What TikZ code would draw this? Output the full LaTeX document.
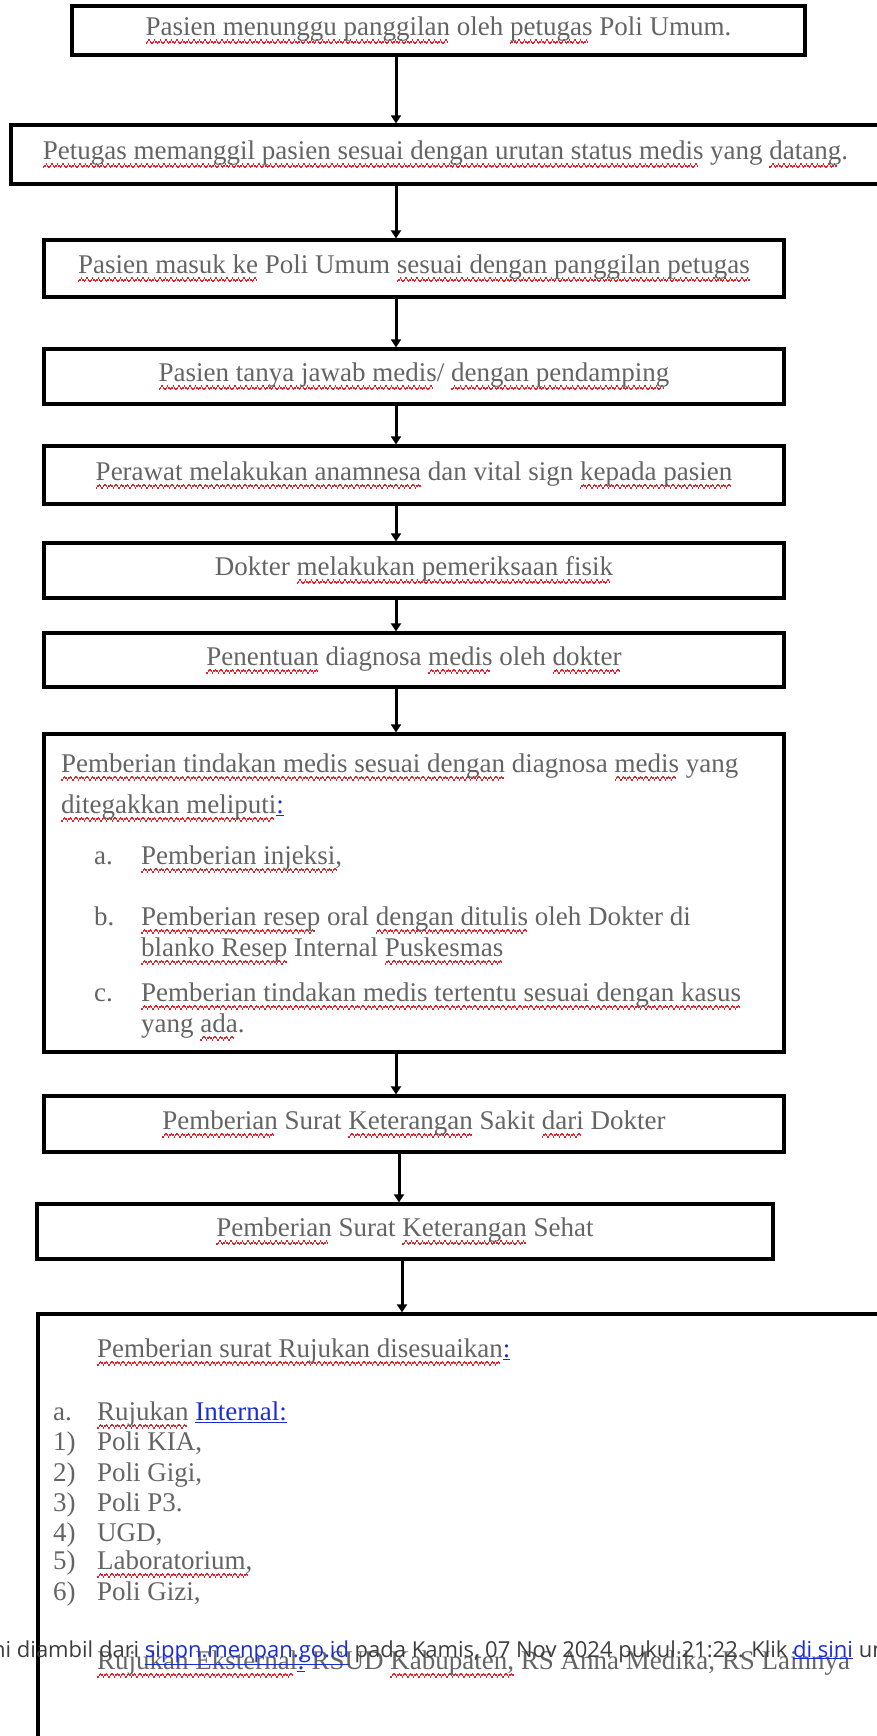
\documentclass[tikz,border=0pt]{standalone}
\usepackage{fontspec}
\setmainfont{Liberation Serif}
\newfontfamily\wmfont{Open Sans}
\usetikzlibrary{arrows.meta}

\definecolor{teks}{RGB}{100,100,100}
\definecolor{kata}{RGB}{110,25,35}
\definecolor{salah}{RGB}{225,35,45}
\definecolor{tautan}{RGB}{25,45,215}
\definecolor{wm}{RGB}{60,60,60}

% garis bergelombang ejaan
\newcommand\gelombang{\hbox{\rule[-8.5pt]{1.4pt}{2pt}\rule[-7pt]{1.4pt}{2pt}%
  \rule[-5.5pt]{1.4pt}{2pt}\rule[-7pt]{1.4pt}{2pt}}}
\newsavebox\ejabox
\newcommand\eja[1]{\leavevmode\sbox\ejabox{#1}%
  \rlap{\hbox to\wd\ejabox{\color{salah}\leaders\gelombang\hfil}}%
  \textcolor{kata}{\usebox\ejabox}}
\newcommand\biru[1]{\textcolor{tautan}{\underline{#1}}}
\newcommand\teksbesar{\fontsize{27}{32}\selectfont}

\tikzset{
  kotak/.style={draw, line width=3.2pt, inner sep=0pt, text=teks, font=\teksbesar},
  baris/.style={anchor=base west, inner sep=0pt, text=teks, font=\teksbesar},
  panah/.style={line width=3pt, -{Triangle[width=10pt,length=8pt]}},
  tanda/.style={anchor=base west, inner sep=0pt, text=wm, font=\wmfont\fontsize{22}{26}\selectfont}
}

\begin{document}
\begin{tikzpicture}[x=1pt, y=-1pt, line join=miter]

\useasboundingbox (0,0) rectangle (877,1736);
\clip (0,0) rectangle (877,1736);

% kotak langkah
\node[kotak, minimum width=733pt, minimum height=49pt] (b1) at (438.5,30.5)
  {\eja{Pasien menunggu panggilan} oleh \eja{petugas} Poli Umum.};
\node[kotak, minimum width=869pt, minimum height=59pt] (b2) at (445.5,154.5)
  {\eja{Petugas memanggil pasien sesuai dengan urutan status medis} yang \eja{datang}.};
\node[kotak, minimum width=740pt, minimum height=57pt] (b3) at (414,268.5)
  {\eja{Pasien masuk ke} Poli Umum \eja{sesuai dengan panggilan petugas}};
\node[kotak, minimum width=740pt, minimum height=55pt] (b4) at (414,376.5)
  {\eja{Pasien tanya jawab medis}/ \eja{dengan pendamping}};
\node[kotak, minimum width=740pt, minimum height=58pt] (b5) at (414,475)
  {\eja{Perawat melakukan anamnesa} dan vital sign \eja{kepada pasien}};
\node[kotak, minimum width=740pt, minimum height=55pt] (b6) at (414,570.5)
  {Dokter \eja{melakukan pemeriksaan fisik}};
\node[kotak, minimum width=740pt, minimum height=54pt] (b7) at (414,660)
  {\eja{Penentuan} diagnosa \eja{medis} oleh \eja{dokter}};
\node[kotak, minimum width=740pt, minimum height=318pt] (b8) at (414,893) {};
\node[kotak, minimum width=740pt, minimum height=56pt] (b9) at (414,1124)
  {\eja{Pemberian} Surat \eja{Keterangan} Sakit \eja{dari} Dokter};
\node[kotak, minimum width=736pt, minimum height=55pt] (b10) at (405,1231.5)
  {\eja{Pemberian} Surat \eja{Keterangan} Sehat};
\node[kotak, minimum width=860pt, minimum height=440pt] (b11) at (468,1534) {};

% isi kotak tindakan
\node[baris] (t8a) at (61,772) {\eja{Pemberian tindakan medis sesuai dengan} diagnosa \eja{medis} yang};
\node[baris] (t8b) at (61,813) {\eja{ditegakkan meliputi}\biru{:}};
\node[baris] (h8a) at (94,864) {a.};
\node[baris] (i8a) at (141,864) {\eja{Pemberian injeksi,}};
\node[baris] (h8b) at (94,925) {b.};
\node[baris] (i8b) at (141,925) {\eja{Pemberian resep} oral \eja{dengan ditulis} oleh Dokter di};
\node[baris] (j8b) at (141,956) {\eja{blanko Resep} Internal \eja{Puskesmas}};
\node[baris] (h8c) at (94,1001) {c.};
\node[baris] (i8c) at (141,1001) {\eja{Pemberian tindakan medis tertentu sesuai dengan kasus}};
\node[baris] (j8c) at (141,1032) {yang \eja{ada}.};

% isi kotak rujukan
\node[baris] (t11) at (97,1357) {\eja{Pemberian surat Rujukan disesuaikan}\biru{:}};
\node[baris] (h11a) at (53,1420) {a.};
\node[baris] (i11a) at (97,1420) {\eja{Rujukan} \biru{Internal:}};
\foreach \n/\isi/\y in {1/{Poli KIA,}/1450, 2/{Poli Gigi,}/1481, 3/{Poli P3.}/1511,
    4/{UGD,}/1541, 5/{\eja{Laboratorium,}}/1569, 6/{Poli Gizi,}/1600}
  \node[baris] (i11n\n) at (97,\y) {\isi} node[baris] (h11n\n) at (53,\y) {\n)};
\node[baris] (t11b) at (97,1669) {\eja{Rujukan Eksternal}\biru{:} RSUD \eja{Kabupaten,} RS Anna Medika, RS Lainnya};

% tanda air
\node[tanda] (wm) at (-120,1657)
  {Dokumen ini diambil dari \biru{sippn.menpan.go.id} pada Kamis, 07 Nov 2024 pukul 21:22. Klik \biru{di sini} untuk melihat};

% panah antar langkah
\coordinate (ax) at (396,0);
\coordinate (ax2) at (399,0);
\coordinate (ax3) at (402,0);
\foreach \i/\j in {1/2,2/3,3/4,4/5,5/6,6/7,7/8,8/9}
  \draw[panah] (b\i.south -| ax) -- (b\j.north -| ax);
\draw[panah] (b9.south -| ax2) -- (b10.north -| ax2);
\draw[panah] (b10.south -| ax3) -- (b11.north -| ax3);

\end{tikzpicture}
\end{document}
